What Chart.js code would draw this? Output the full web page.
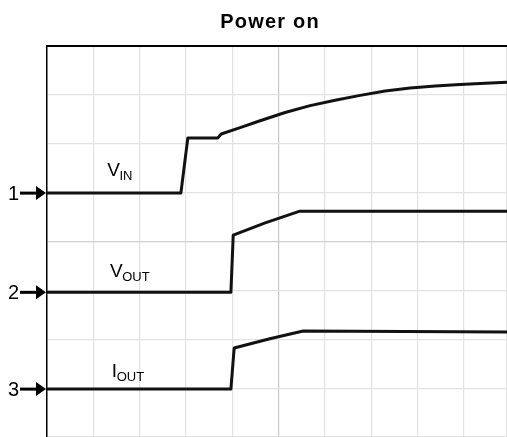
<!DOCTYPE html>
<html>
<head>
<meta charset="utf-8">
<script src="https://cdn.jsdelivr.net/npm/chart.js@4/dist/chart.umd.min.js"></script>
<style>
  html, body { margin: 0; padding: 0; background: #fff; overflow: hidden; }
  canvas { display: block; }
</style>
</head>
<body>
<canvas id="c" width="507" height="437"></canvas>
<script>
// ---- data (oscilloscope divisions: x = time div, y = vertical div from bottom) ----
const chartTitle = 'Power on';

const vinTime  = [0, 2.89, 3.04, 3.69, 3.76, 4.17, 4.60, 5.14, 5.68, 6.22, 6.76, 7.30, 7.84, 8.38, 8.92, 9.46, 9.93];
const vinLevel = [4.99, 4.99, 6.12, 6.12, 6.20, 6.33, 6.47, 6.64, 6.78, 6.89, 6.99, 7.08, 7.14, 7.18, 7.21, 7.24, 7.26];

const voutTime  = [0, 3.97, 4.02, 4.71, 5.46, 9.93];
const voutLevel = [2.96, 2.96, 4.13, 4.38, 4.62, 4.62];

const ioutTime  = [0, 3.97, 4.04, 4.81, 5.53, 9.93];
const ioutLevel = [0.98, 0.98, 1.82, 2.01, 2.17, 2.15];

const channelNumbers = ['1', '2', '3'];
const channelNames   = [['V', 'IN'], ['V', 'OUT'], ['I', 'OUT']];

const xDivisions = 9.93;
const yDivisions = 8;

// ---- helpers ----
function toPoints(xs, ys) { return xs.map((x, i) => ({ x: x, y: ys[i] })); }

const labelAnchor = [
  { x: 1.30, y: 5.34 },
  { x: 1.36, y: 3.27 },
  { x: 1.40, y: 1.23 }
];

const FONT = '"Liberation Sans", Arial, Helvetica, sans-serif';

const spacingPlugin = {
  id: 'titleSpacing',
  beforeDraw(chart) { chart.ctx.letterSpacing = '1.2px'; }
};

const scopePlugin = {
  id: 'scopeMarks',
  afterDraw(chart) {
    const ctx = chart.ctx;
    ctx.letterSpacing = '0px';
    const xs = chart.scales.x, ys = chart.scales.y;
    const left = chart.chartArea.left;
    ctx.save();
    chart.data.datasets.forEach((ds, i) => {
      const yPix = ys.getPixelForValue(ds.data[0].y);
      // channel arrow
      ctx.strokeStyle = '#000';
      ctx.fillStyle = '#000';
      ctx.lineWidth = 3;
      ctx.beginPath();
      ctx.moveTo(left - 27, yPix);
      ctx.lineTo(left - 8, yPix);
      ctx.stroke();
      ctx.beginPath();
      ctx.moveTo(left - 1, yPix);
      ctx.lineTo(left - 11, yPix - 7);
      ctx.lineTo(left - 11, yPix + 7);
      ctx.closePath();
      ctx.fill();
      // channel number
      ctx.font = '20px ' + FONT;
      ctx.textAlign = 'right';
      ctx.textBaseline = 'middle';
      ctx.fillText(channelNumbers[i], left - 28, yPix + 1);
      // trace name with subscript
      const a = labelAnchor[i];
      const lx = xs.getPixelForValue(a.x), ly = ys.getPixelForValue(a.y);
      ctx.textAlign = 'left';
      ctx.textBaseline = 'alphabetic';
      ctx.font = '19px ' + FONT;
      const main = channelNames[i][0];
      ctx.fillText(main, lx, ly);
      const w = ctx.measureText(main).width;
      ctx.font = '13px ' + FONT;
      ctx.fillText(channelNames[i][1], lx + w - 0.5, ly + 4);
    });
    ctx.restore();
  }
};

const gridColor = (c) => (c.tick && c.tick.value === 5) ? '#c9c9c9' : '#e2e2e2';
const gridColorY = (c) => (c.tick && c.tick.value === 4) ? '#cfcfcf' : '#e2e2e2';

new Chart(document.getElementById('c'), {
  type: 'line',
  data: {
    datasets: [
      { label: 'VIN',  data: toPoints(vinTime, vinLevel) },
      { label: 'VOUT', data: toPoints(voutTime, voutLevel) },
      { label: 'IOUT', data: toPoints(ioutTime, ioutLevel) }
    ]
  },
  options: {
    responsive: false,
    animation: false,
    events: [],
    layout: { padding: { left: 33, right: 0, top: 0, bottom: 0 } },
    elements: {
      line: { borderColor: '#111', borderWidth: 3, tension: 0, fill: false, borderCapStyle: 'butt', borderJoinStyle: 'round' },
      point: { radius: 0 }
    },
    plugins: {
      legend: { display: false },
      tooltip: { enabled: false },
      title: {
        display: true,
        text: chartTitle,
        color: '#000',
        font: { family: FONT, size: 20, weight: 'bold', lineHeight: 1.2 },
        padding: { top: 10, bottom: 12 }
      }
    },
    scales: {
      x: {
        type: 'linear', position: 'bottom', min: 0, max: xDivisions,
        ticks: { display: false, stepSize: 1 },
        grid: { color: gridColor, lineWidth: 1.2, drawTicks: false },
        border: { display: false },
        afterFit(s) { s.height = 0; }
      },
      xTop: {
        type: 'linear', position: 'top', min: 0, max: xDivisions,
        ticks: { display: false },
        grid: { display: false, drawTicks: false },
        border: { display: true, color: '#000', width: 2 },
        afterFit(s) { s.height = 0; }
      },
      y: {
        type: 'linear', min: 0, max: yDivisions,
        ticks: { display: false, stepSize: 1 },
        grid: { color: gridColorY, lineWidth: 1.2, drawTicks: false },
        border: { display: true, color: '#000', width: 1.5 },
        afterFit(s) { s.width = 14; }
      }
    }
  },
  plugins: [spacingPlugin, scopePlugin]
});
</script>
</body>
</html>
